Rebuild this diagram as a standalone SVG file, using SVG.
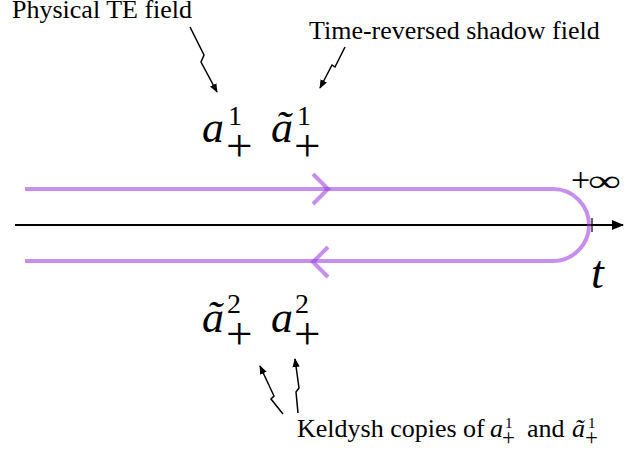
<svg xmlns="http://www.w3.org/2000/svg" width="624" height="452" viewBox="0 0 624 452">
<style>
text{font-family:'Liberation Serif','DejaVu Serif',serif;fill:#000}
.lbl{font-size:26px}
.mi{font-style:italic}
.contour{fill:none;stroke:#9933dd;stroke-opacity:0.55;stroke-width:4}
.pt{fill:none;stroke:#000;stroke-width:1.5}
</style>
<defs>
<marker id="ah" viewBox="0 0 10 10" refX="9" refY="5" markerWidth="9" markerHeight="9" markerUnits="userSpaceOnUse" orient="auto">
<path d="M0,1 L10,5 L0,9 Z" fill="#000"/>
</marker>
<marker id="axh" viewBox="0 0 12 10" refX="11" refY="5" markerWidth="12" markerHeight="10" markerUnits="userSpaceOnUse" orient="auto">
<path d="M0,0 L12,5 L0,10 Z" fill="#000"/>
</marker>
</defs>
<rect width="624" height="452" fill="#fff"/>

<g id="axis">
<line x1="15" y1="225" x2="623" y2="225" stroke="#000" stroke-width="2" marker-end="url(#axh)"/>
<line x1="592" y1="218" x2="592" y2="232" stroke="#000" stroke-width="1.2"/>
<text class="mi" x="591" y="288" font-size="46">t</text>
<text x="571" y="191" font-size="34">+</text>
<text x="588" y="191" font-size="30" textLength="33" lengthAdjust="spacingAndGlyphs">∞</text>
</g>

<g id="contour">
<path class="contour" d="M25,189 H553 A36,36 0 0 1 553,261 H25"/>
<path class="contour" d="M313,174 L328,189 L313,204"/>
<path class="contour" d="M328,247 L313,262 L328,277"/>
</g>

<g id="top-fields">
<text class="mi" x="202" y="142" font-size="44">a</text>
<text x="228" y="125" font-size="28">1</text>
<text x="226" y="161" font-size="47">+</text>
<text class="mi" x="271" y="142" font-size="44">ã</text>
<text x="297" y="125" font-size="28">1</text>
<text x="294" y="161" font-size="47">+</text>
</g>

<g id="bottom-fields">
<text class="mi" x="202" y="332" font-size="44">ã</text>
<text x="227" y="313" font-size="28">2</text>
<text x="226" y="349" font-size="47">+</text>
<text class="mi" x="271" y="332" font-size="44">a</text>
<text x="295" y="313" font-size="28">2</text>
<text x="294" y="349" font-size="47">+</text>
</g>

<g id="label-physical">
<text class="lbl" x="12" y="18">Physical TE field</text>
</g>
<g id="label-shadow">
<text class="lbl" x="309" y="39">Time-reversed shadow field</text>
</g>
<g id="label-keldysh">
<text class="lbl" x="297" y="437">Keldysh copies of</text>
<text class="mi" x="490" y="437" font-size="26">a</text>
<text x="505" y="428" font-size="15">1</text>
<text x="502" y="445" font-size="23">+</text>
<text class="lbl" x="527" y="437">and</text>
<text class="mi" x="572" y="437" font-size="26">ã</text>
<text x="588" y="428" font-size="15">1</text>
<text x="585" y="445" font-size="23">+</text>
</g>

<g id="connectors">
<path class="pt" d="M190,27 L204,55 L201,62 L217,92" marker-end="url(#ah)"/>
<path class="pt" d="M345,47 L335,67 L332,65 L320,88" marker-end="url(#ah)"/>
<path class="pt" d="M283,414 L271,399 L274,396 L260,366" marker-end="url(#ah)"/>
<path class="pt" d="M298,413 L296,392 L299,388 L295,359" marker-end="url(#ah)"/>
</g>
</svg>
